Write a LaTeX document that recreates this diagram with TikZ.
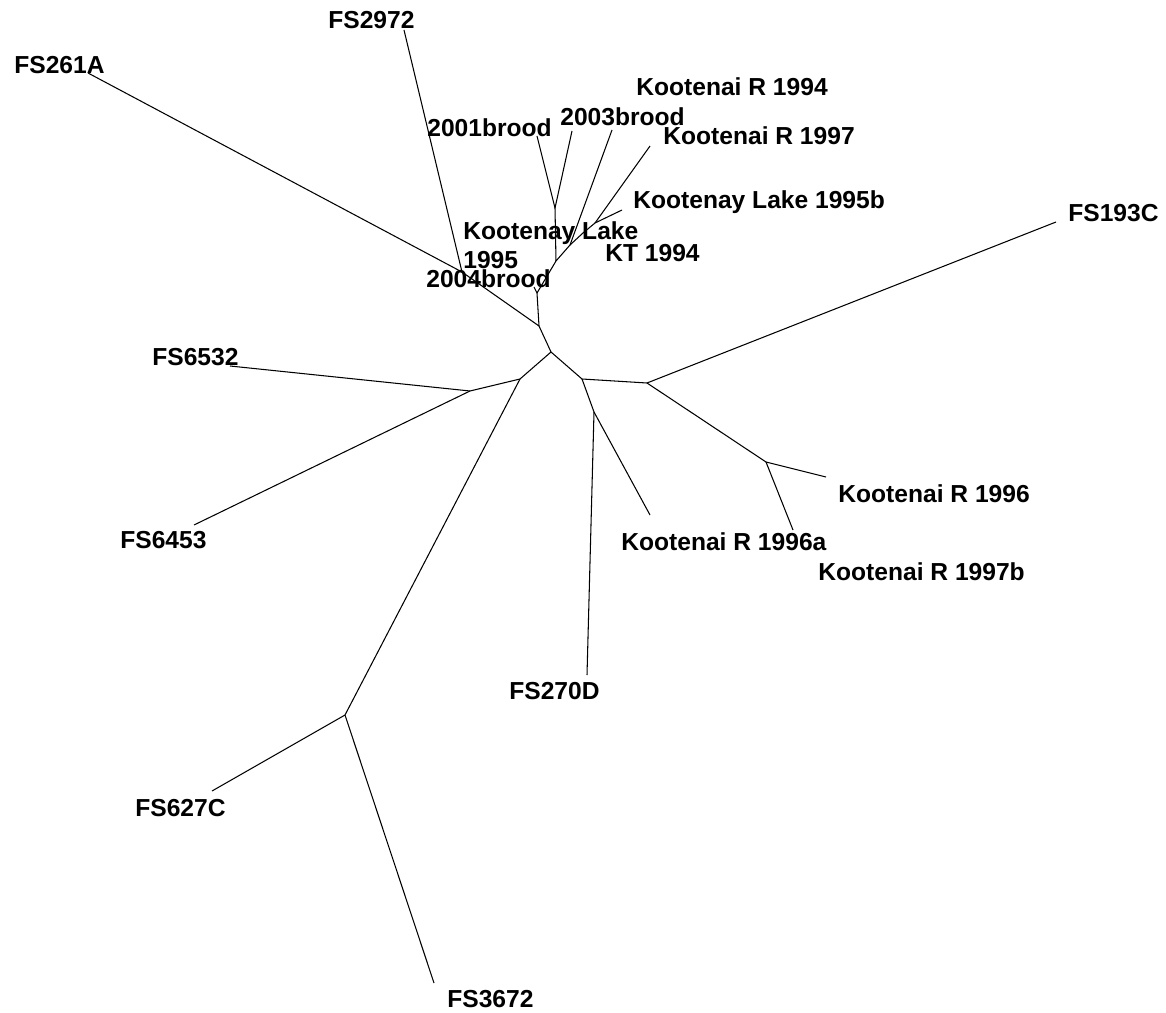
\documentclass[tikz,border=0pt]{standalone}
\usepackage{fontspec}
\setmainfont{Liberation Sans}
\usepackage{tikz}

\tikzset{
	branch/.style={draw=black, line width=0.6pt},
	taxon/.style={inner sep=0pt, anchor=base west, font=\fontsize{14}{16.4}\selectfont\bfseries, align=left}
}

\begin{document}
\begin{tikzpicture}[x=0.02cm, y=-0.02cm]
			\useasboundingbox (0,0) rectangle (1166,1013);

			% inner nodes
			\coordinate (ctr) at (551,352);
			\coordinate (up) at (539,326);
			\coordinate (fsa) at (462,272);
			\coordinate (b04) at (537,293);
			\coordinate (kc) at (556,261);
			\coordinate (b0103) at (555,208);
			\coordinate (kf) at (570,245);
			\coordinate (kg) at (583,233);
			\coordinate (kh) at (595,223);
			\coordinate (lt) at (520,379);
			\coordinate (lt2) at (470,391);
			\coordinate (fsc) at (345,715);
			\coordinate (rt) at (582,379);
			\coordinate (rt2) at (647,383);
			\coordinate (rt3) at (594,412);
			\coordinate (kr) at (766,462);

			% tips
			\coordinate (tFS2972) at (404,30);
			\coordinate (tFS261A) at (88,73);
			\coordinate (t2004) at (534,287);
			\coordinate (t2001) at (537,136);
			\coordinate (t2003) at (572,131);
			\coordinate (tKR94) at (612,130);
			\coordinate (tKR97) at (650,146);
			\coordinate (tKL95b) at (622,210);
			\coordinate (tFS6532) at (230,366);
			\coordinate (tFS6453) at (194,525);
			\coordinate (tFS627C) at (212,791);
			\coordinate (tFS3672) at (434,983);
			\coordinate (tFS270D) at (587,675);
			\coordinate (tKR96a) at (650,515);
			\coordinate (tFS193C) at (1056,222);
			\coordinate (tKR96) at (826,477);
			\coordinate (tKR97b) at (793,530);

			% branches
			\foreach \a/\b in {ctr/up, up/fsa, fsa/tFS261A, fsa/tFS2972, up/b04, b04/t2004,
				b04/kc, kc/b0103, b0103/t2001, b0103/t2003, kc/kf, kf/tKR94, kf/kg, kg/kh,
				kh/tKR97, kh/tKL95b, ctr/lt, lt/lt2, lt2/tFS6532, lt2/tFS6453, lt/fsc,
				fsc/tFS627C, fsc/tFS3672, ctr/rt, rt/rt3, rt3/tFS270D, rt3/tKR96a,
				rt/rt2, rt2/tFS193C, rt2/kr, kr/tKR96, kr/tKR97b}
				\draw[branch] (\a) -- (\b);

			% labels
			\node[taxon] (lFS2972) at (328,29) {FS2972};
			\node[taxon] (lFS261A) at (14,74) {FS261A};
			\node[taxon] (l2001) at (427,137) {2001brood};
			\node[taxon] (l2003) at (560,126) {2003brood};
			\node[taxon] (lKR94) at (636,96) {Kootenai R 1994};
			\node[taxon] (lKR97) at (663,145) {Kootenai R 1997};
			\node[taxon] (lKL95b) at (633,209) {Kootenay Lake 1995b};
			\node[taxon] (lKL95) at (463,240) {Kootenay Lake};
			\node[taxon] (lKL95y) at (463,269) {1995};
			\node[taxon] (lKT94) at (605,262) {KT 1994};
			\node[taxon] (l2004) at (426,288) {2004brood};
			\node[taxon] (lFS193C) at (1068,222) {FS193C};
			\node[taxon] (lFS6532) at (152,366) {FS6532};
			\node[taxon] (lFS6453) at (120,548) {FS6453};
			\node[taxon] (lKR96) at (838,502) {Kootenai R 1996};
			\node[taxon] (lKR96a) at (621,550) {Kootenai R 1996a};
			\node[taxon] (lKR97b) at (818,580) {Kootenai R 1997b};
			\node[taxon] (lFS270D) at (509,699) {FS270D};
			\node[taxon] (lFS627C) at (135,816) {FS627C};
			\node[taxon] (lFS3672) at (447,1007) {FS3672};
		\end{tikzpicture}
\end{document}
